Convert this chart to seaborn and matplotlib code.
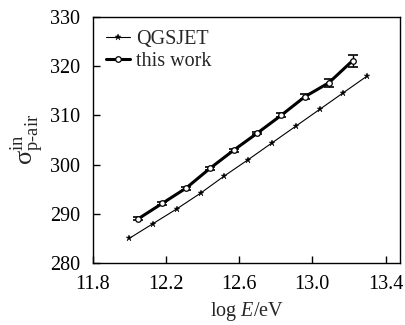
import matplotlib
matplotlib.use("Agg")
import matplotlib.pyplot as plt
import seaborn as sns
import pandas as pd

# Data
qgs_logE = [12.00, 12.13, 12.26, 12.39, 12.52, 12.65, 12.78, 12.91, 13.04, 13.17, 13.30]
qgs_sigma = [285.0, 288.0, 291.0, 294.2, 297.7, 301.0, 304.4, 307.8, 311.2, 314.6, 318.0]

work_logE = [12.05, 12.18, 12.31, 12.44, 12.57, 12.70, 12.83, 12.96, 13.09, 13.22]
work_sigma = [289.0, 292.1, 295.2, 299.2, 302.9, 306.4, 310.0, 313.8, 316.6, 321.1]
work_err = [0.3, 0.3, 0.3, 0.3, 0.3, 0.3, 0.4, 0.5, 0.8, 1.2]

xticks = [11.8, 12.2, 12.6, 13.0, 13.4]
yticks = [280, 290, 300, 310, 320, 330]

sns.set_theme(style="ticks")
plt.rcParams['font.family'] = ['Liberation Serif', 'DejaVu Serif']
plt.rcParams['mathtext.fontset'] = 'custom'
plt.rcParams['mathtext.rm'] = 'Liberation Serif'
plt.rcParams['mathtext.it'] = 'Liberation Serif:italic'

fig = plt.figure(figsize=(4.05, 3.25), dpi=100)
ax = fig.add_axes([0.229, 0.191, 0.759, 0.757])

df_q = pd.DataFrame({"x": qgs_logE, "y": qgs_sigma})
df_w = pd.DataFrame({"x": work_logE, "y": work_sigma})

sns.lineplot(data=df_q, x="x", y="y", ax=ax, color="black", linewidth=0.8,
             marker="*", markersize=5, markeredgewidth=0.3,
             markerfacecolor="black", markeredgecolor="black", label="QGSJET")
ax.errorbar(work_logE, work_sigma, yerr=work_err, fmt="none", ecolor="black",
            elinewidth=1.0, capsize=3.5, capthick=1.2)
sns.lineplot(data=df_w, x="x", y="y", ax=ax, color="black", linewidth=2.2,
             marker="o", markersize=4, markerfacecolor="white",
             markeredgecolor="black", markeredgewidth=0.9, label="this work")

ax.set_xlim(11.8, 13.48)
ax.set_ylim(280, 330)
ax.set_xticks(xticks)
ax.set_xticklabels([f"{t:.1f}" for t in xticks])
ax.set_yticks(yticks)
ax.set_yticklabels([str(t) for t in yticks])
ax.tick_params(direction="in", length=5, width=1, labelsize=14.5, colors="black",
               top=False, right=False)
ax.tick_params(axis="x", pad=9)
ax.tick_params(axis="y", pad=9)
for s in ax.spines.values():
    s.set_visible(True)
    s.set_linewidth(1.0)
    s.set_color("black")

ax.set_xlabel(r"log $E$/eV", fontsize=14.5, labelpad=4)
ax.set_ylabel(r"$\mathrm{σ}^{\rm in}_{\rm p\text{-}air}$", fontsize=19, labelpad=3)

leg = ax.legend(loc="upper left", frameon=False, fontsize=14.5, handlelength=1.2,
                handletextpad=0.3, borderaxespad=0.25, labelspacing=0.15)

fig.savefig("out.png", dpi=100)
